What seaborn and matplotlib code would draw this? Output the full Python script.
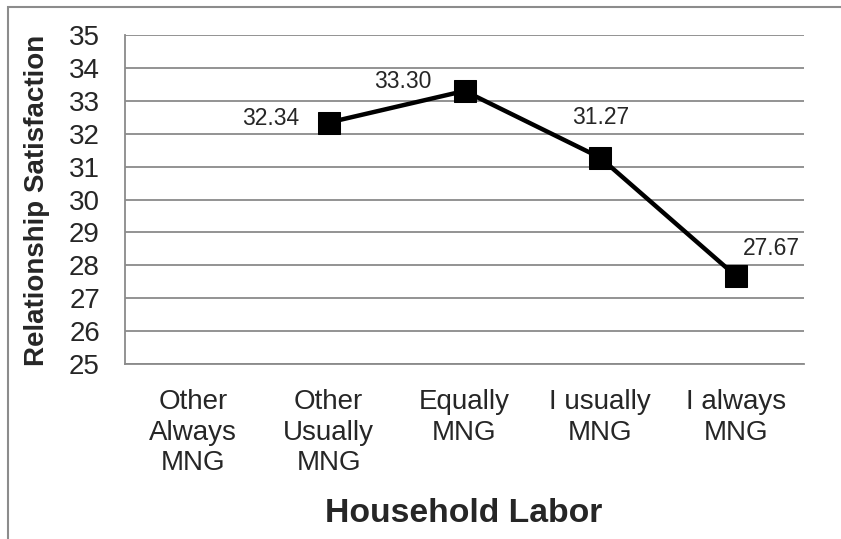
import numpy as np
import pandas as pd
import seaborn as sns
import matplotlib.pyplot as plt
from matplotlib.patches import Rectangle

# Chart data
categories = ["Other\nAlways\nMNG", "Other\nUsually\nMNG", "Equally\nMNG", "I usually\nMNG", "I always\nMNG"]
satisfaction = [np.nan, 32.34, 33.30, 31.27, 27.67]
y_ticks = [25, 26, 27, 28, 29, 30, 31, 32, 33, 34, 35]

# label offsets (pixels) from each marker, Excel-style placement
label_offsets = [(0, 0), (-58, -4), (-62, -9), (0, -40), (35, -28)]

df = pd.DataFrame({"pos": np.arange(len(categories)), "value": satisfaction})

sns.set_style("white")
plt.rcParams["font.family"] = ["Liberation Sans", "DejaVu Sans"]

fig = plt.figure(figsize=(8.41, 5.39), dpi=100)
ax = fig.add_axes([125 / 841, 1 - 364 / 539, (804 - 125) / 841, (364 - 35) / 539])

grid_col = "#8a8a8a"
for t in y_ticks:
    ax.axhline(t, color=grid_col, lw=1.3, zorder=0)

sns.lineplot(data=df.dropna(), x="pos", y="value", marker="s", markersize=16,
             color="black", linewidth=3.2, markeredgecolor="black", ax=ax, zorder=3)

for i, v in enumerate(satisfaction):
    if np.isnan(v):
        continue
    dx, dy = label_offsets[i]
    ax.annotate(f"{v:.2f}", (i, v), xytext=(dx, -dy), textcoords="offset pixels",
                ha="center", va="center", fontsize=16.5)

ax.set_xlim(-0.5, len(categories) - 0.5)
ax.set_ylim(25, 35)
ax.set_yticks(y_ticks)
ax.set_yticklabels([str(t) for t in y_ticks], fontsize=20)
ax.set_xticks(np.arange(len(categories)))
ax.set_xticklabels(categories, fontsize=20, linespacing=1.23)
ax.set_xticks(np.arange(len(categories) + 1) - 0.5, minor=True)
ax.tick_params(axis="x", which="major", length=0, pad=18)
ax.tick_params(axis="x", which="minor", length=6, width=1.3, color=grid_col, direction="out")
ax.tick_params(axis="y", which="major", length=6, width=1.3, color=grid_col, pad=12, direction="out")

for s in ["top", "right"]:
    ax.spines[s].set_visible(False)
for s in ["left", "bottom"]:
    ax.spines[s].set_color(grid_col)
    ax.spines[s].set_linewidth(1.3)

ax.set_xlabel("")
ax.set_ylabel("")
fig.text(37.5 / 841, 1 - 200 / 539, "Relationship Satisfaction", fontsize=20, fontweight="bold",
         rotation=90, ha="center", va="center")
fig.text(464 / 841, 1 - 513 / 539, "Household Labor", fontsize=24.3, fontweight="bold",
         ha="center", va="center")

# outer chart frame (only top and left edges show in the crop)
fig.patches.append(Rectangle((8 / 841, -0.1), 1.2, 1 - 7 / 539 + 0.1, transform=fig.transFigure,
                             fill=False, edgecolor="#8c8c8c", linewidth=1.5))

fig.savefig("out.png", dpi=100)
